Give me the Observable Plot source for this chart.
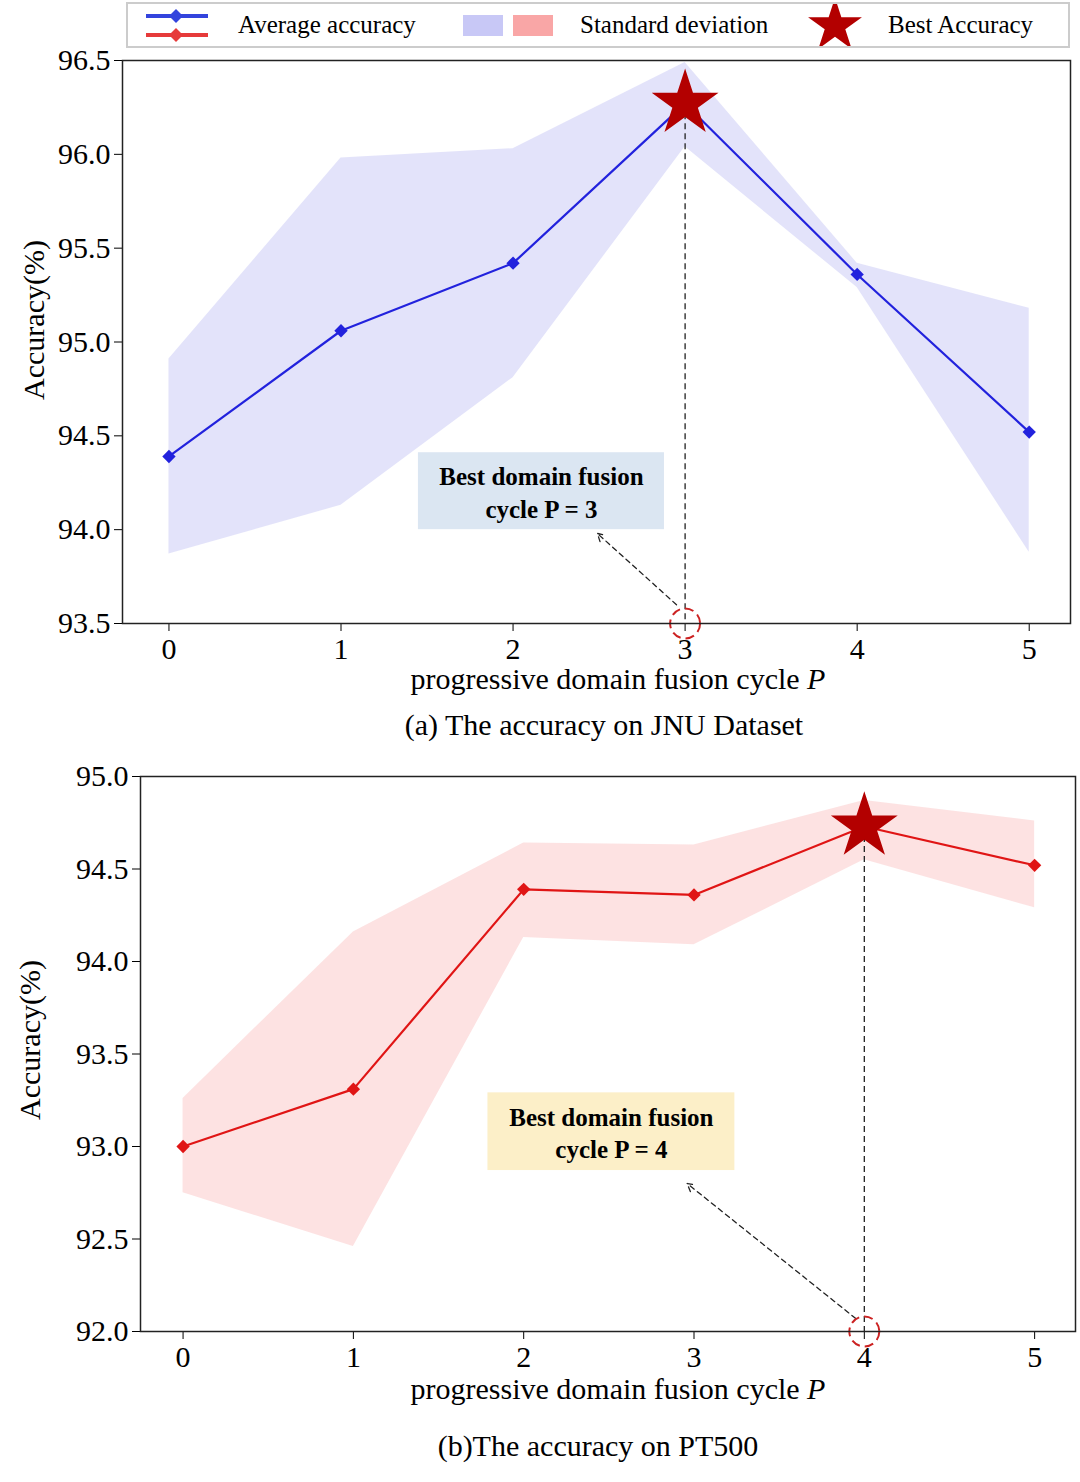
<!DOCTYPE html>
<html><head><meta charset="utf-8">
<script src="https://cdn.jsdelivr.net/npm/d3@7"></script>
<script src="https://cdn.jsdelivr.net/npm/@observablehq/plot@0.6"></script>
<style>
body{margin:0;background:#fff;font-family:"Liberation Serif",serif;width:1080px;height:1482px;position:relative;overflow:hidden}
.abs{position:absolute}
.lbl{font-size:30px;text-align:center;width:1080px;left:0}
svg text{font-family:"Liberation Serif",serif}
</style></head><body>
<script>
const cycles = [0,1,2,3,4,5];
const jnuMean = [94.39,95.06,95.42,96.27,95.36,94.52];
const jnuUpper = [94.91,95.98,96.03,96.49,95.42,95.18];
const jnuLower = [93.87,94.13,94.81,96.04,95.29,93.88];
const ptMean = [93.00,93.31,94.39,94.36,94.73,94.52];
const ptUpper = [93.26,94.16,94.64,94.63,94.87,94.76];
const ptLower = [92.75,92.46,94.13,94.09,94.55,94.29];
const jnuTicks = [93.5,94.0,94.5,95.0,95.5,96.0,96.5];
const ptTicks = [92.0,92.5,93.0,93.5,94.0,94.5,95.0];

function legend(){
  const d=document.createElement("div");d.className="abs";
  d.style.cssText="left:126px;top:2px;width:940px;height:42px;border:2px solid #ccc;font-size:25px;";
  d.innerHTML=`<svg width="940" height="42" style="position:absolute;left:0;top:0">
  <line x1="18" y1="12" x2="80" y2="12" stroke="#3344dd" stroke-width="4"/><path d="M48 5 L55 12 L48 19 L41 12Z" fill="#3344dd"/>
  <line x1="18" y1="31" x2="80" y2="31" stroke="#e63a3a" stroke-width="4"/><path d="M48 24 L55 31 L48 38 L41 31Z" fill="#e63a3a"/>
  <rect x="335" y="11" width="40" height="21" fill="#c8c8f6"/><rect x="385" y="11" width="40" height="21" fill="#f9a6a6"/>
  <path d="${d3.symbol(d3.symbolStar,900)()}" transform="translate(707,22)" fill="#b30000"/>
  <text x="110" y="29" font-size="25">Average accuracy</text>
  <text x="452" y="29" font-size="25">Standard deviation</text>
  <text x="760" y="29" font-size="25">Best Accuracy</text></svg>`;
  document.body.appendChild(d);
}
legend();

function panel(o){
  const data=cycles.map((c,i)=>({c,m:o.mean[i],u:o.upper[i],l:o.lower[i]}));
  const bi=o.best;
  const p=Plot.plot({
    width:1080,height:o.h,marginLeft:o.ml,marginRight:o.mr,marginTop:o.mt,marginBottom:o.mb,
    style:{fontSize:"30px",fontFamily:"Liberation Serif",overflow:"visible"},
    x:{domain:o.xd,ticks:cycles,tickFormat:d=>d,tickSize:8,label:null,tickPadding:6},
    y:{domain:o.yd,ticks:o.ticks,tickFormat:d=>d.toFixed(1),tickSize:8,label:null,tickPadding:4},
    marks:[
      Plot.areaY(data,{x:"c",y1:"l",y2:"u",fill:o.band,fillOpacity:o.bo}),
      Plot.rect([o.box],{x1:"x1",x2:"x2",y1:"y1",y2:"y2",fill:o.boxFill}),
      Plot.text([o.box],{x:d=>(d.x1+d.x2)/2,y:d=>(d.y1+d.y2)/2,text:d=>"Best domain fusion\ncycle P = "+cycles[bi],fontWeight:"bold",fontSize:25,lineHeight:1.3}),
      Plot.ruleX([data[bi]],{x:"c",y1:"m",y2:o.yd[0],stroke:"#222",strokeDasharray:"6,4",strokeWidth:1.3}),
      Plot.arrow([o.arrow],{x1:"x1",y1:"y1",x2:"x2",y2:"y2",stroke:"#222",strokeDasharray:"5,4",strokeWidth:1.3,headLength:10}),
      Plot.line(data,{x:"c",y:"m",stroke:o.line,strokeWidth:2.2}),
      Plot.dot(data,{x:"c",y:"m",symbol:"diamond2",fill:o.line,r:6}),
      Plot.dot([data[bi]],{x:"c",y:"m",symbol:"star",fill:"#b30000",r:21}),
      Plot.dot([{c:cycles[bi],y:o.yd[0]}],{x:"c",y:"y",r:15,stroke:"#cc2222",fill:"none",strokeDasharray:"9,5",strokeWidth:2}),
      Plot.frame({stroke:"#222",strokeWidth:1.5})
    ]
  });
  p.style.position="absolute";p.style.left="0px";p.style.top=o.top+"px";
  document.body.appendChild(p);
  const yl=document.createElement("div");yl.className="abs";
  yl.style.cssText=`font-size:30px;left:${o.ylx}px;top:${o.yly}px;transform:translate(-50%,-50%) rotate(-90deg);white-space:nowrap`;
  yl.textContent="Accuracy(%)";document.body.appendChild(yl);
  const xl=document.createElement("div");xl.className="abs lbl";xl.style.top=o.xly+"px";xl.style.left=o.xlx+"px";
  xl.innerHTML="progressive domain fusion cycle <i>P</i>";document.body.appendChild(xl);
  const cap=document.createElement("div");cap.className="abs lbl";cap.style.top=o.capy+"px";cap.style.left=o.capx+"px";
  cap.textContent=o.cap;document.body.appendChild(cap);
}

panel({mean:jnuMean,upper:jnuUpper,lower:jnuLower,best:3,top:45,h:620,mt:15,mb:42,ml:122,mr:10,
  xd:[-0.27,5.24],yd:[93.5,96.5],ticks:jnuTicks,band:"#c8c8f6",bo:0.5,line:"#2222dd",
  box:{x1:1.45,x2:2.88,y1:94.0,y2:94.41},boxFill:"#dbe6f2",
  arrow:{x1:2.95,y1:93.6,x2:2.49,y2:93.98},
  ylx:34,yly:320,xly:662,xlx:78,capx:64,capy:708,cap:"(a) The accuracy on JNU Dataset"});
panel({mean:ptMean,upper:ptUpper,lower:ptLower,best:4,top:760,h:620,mt:16,mb:49,ml:140,mr:5,
  xd:[-0.25,5.24],yd:[92.0,95.0],ticks:ptTicks,band:"#fbc6c6",bo:0.5,line:"#e01515",
  box:{x1:1.79,x2:3.24,y1:92.87,y2:93.29},boxFill:"#fcefc8",
  arrow:{x1:3.95,y1:92.07,x2:2.96,y2:92.8},
  ylx:30,yly:1040,xly:1372,xlx:78,capx:58,capy:1429,cap:"(b)The accuracy on PT500"});
</script>
</body></html>
